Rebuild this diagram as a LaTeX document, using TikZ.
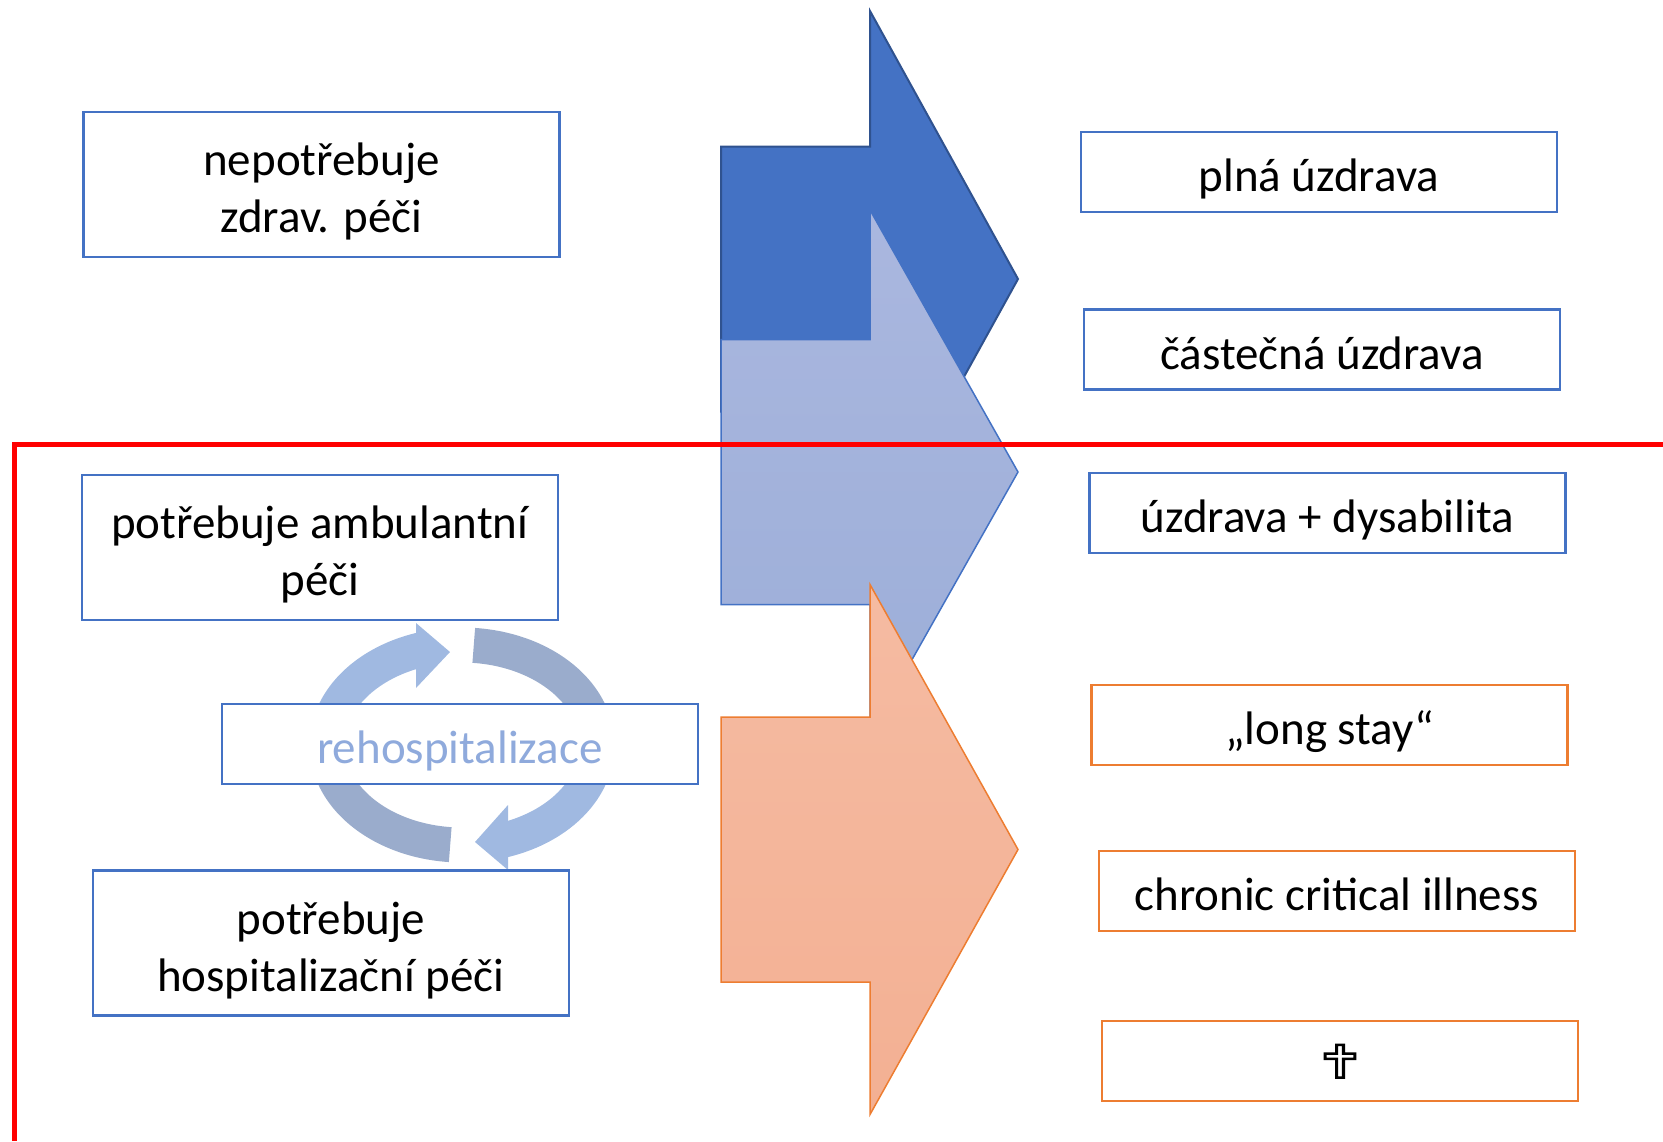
\documentclass[tikz,border=0pt]{standalone}
\usepackage{fontspec}
\usepackage{graphicx}
\setmainfont{Carlito}
\newfontfamily\symfont{DejaVu Sans}
\newcommand\hstrut{\rule{0pt}{54pt}}
\newcommand\dstrut{\rule[-14.1pt]{0pt}{14.1pt}}
\definecolor{boxblue}{HTML}{4472C4}
\definecolor{boxorange}{HTML}{ED7D31}
\definecolor{darkedge}{HTML}{2F528F}
\definecolor{lighttop}{HTML}{AAB7DF}
\definecolor{lightbot}{HTML}{9CAED8}
\definecolor{orangetop}{HTML}{F5BBA2}
\definecolor{orangebot}{HTML}{F3B093}
\definecolor{cyclelight}{HTML}{A0B9E1}
\definecolor{cyclegray}{HTML}{9AACCC}
\definecolor{rehotext}{HTML}{8FAADC}
\begin{document}
\begin{tikzpicture}[x=1pt,y=-1pt,
  box/.style={draw=boxblue, line width=2.5pt, fill=white, inner sep=0pt, align=center,
    minimum width=476pt, minimum height=80pt, font=\fontsize{47}{57}\selectfont},
  tallbox/.style={box, minimum height=145pt},
  obox/.style={box, draw=boxorange},
  band/.style={line width=35pt, line cap=butt},
]
\useasboundingbox (0,0) rectangle (1663,1141);

% big arrows
\path[fill=boxblue, draw=darkedge, line width=2pt, line join=miter]
  (721,146.5) -- (870,146.5) -- (870,11) -- (1018,279) -- (870,547) -- (870,411.5) -- (721,411.5) -- cycle;
\path[top color=lighttop, bottom color=lightbot, draw=boxblue, line width=1.5pt]
  (721,339.5) -- (870,339.5) -- (870,210) -- (1018,472) -- (870,734) -- (870,604.5) -- (721,604.5) -- cycle;
\path[top color=orangetop, bottom color=orangebot, draw=boxorange, line width=1.5pt]
  (721,717) -- (870,717) -- (870,584.5) -- (1018,849.5) -- (870,1114.5) -- (870,982) -- (721,982) -- cycle;

% red boundary
\draw[red, line width=5pt] (14.5,1141) -- (14.5,444.5) -- (1663,444.5);

% rehospitalization cycle
\draw[band, cyclelight] plot[domain=185:107, samples=50] ({462+135*cos(\x)}, {745-100*sin(\x)});
\fill[cyclelight] (416,623) -- (450,652) -- (416,688) -- cycle;
\draw[band, cyclegray] plot[domain=85:-5, samples=50] ({462+135*cos(\x)}, {745-100*sin(\x)});
\draw[band, cyclelight] plot[domain=5:-73, samples=50] ({462+135*cos(\x)}, {745-100*sin(\x)});
\fill[cyclelight] (508,805) -- (475,842) -- (508,870) -- cycle;
\draw[band, cyclegray] plot[domain=265:175, samples=50] ({462+135*cos(\x)}, {745-100*sin(\x)});

% left boxes
\node[tallbox] (nepotrebuje) at (321.5,184.5) {\hstrut nepotřebuje\\zdrav. péči\dstrut};
\node[tallbox] (ambulantni) at (319.8,547.3) {\hstrut potřebuje ambulantní\\péči\dstrut};
\node[box, text=rehotext] (rehosp) at (459.8,744) {\hstrut rehospitalizace\dstrut};
\node[tallbox] (hospitalizacni) at (330.9,942.9) {\hstrut potřebuje\\hospitalizační péči\dstrut};

% right boxes
\node[box] (plna) at (1318.9,171.8) {\hstrut plná úzdrava\dstrut};
\node[box] (castecna) at (1322,349.5) {\hstrut částečná úzdrava\dstrut};
\node[box] (dysabilita) at (1327.3,512.8) {\hstrut úzdrava + dysabilita\dstrut};
\node[obox] (longstay) at (1329.5,724.9) {\hstrut „long stay“\dstrut};
\node[obox] (chronic) at (1336.9,890.9) {\hstrut chronic critical illness\dstrut};
\node[obox] (death) at (1340,1061.2) {\scalebox{1.3}[1]{\symfont\fontsize{45}{45}\selectfont\special{pdf:literal 1 Tr 2.4 w}✝\special{pdf:literal 0 Tr}}};
\end{tikzpicture}
\end{document}
